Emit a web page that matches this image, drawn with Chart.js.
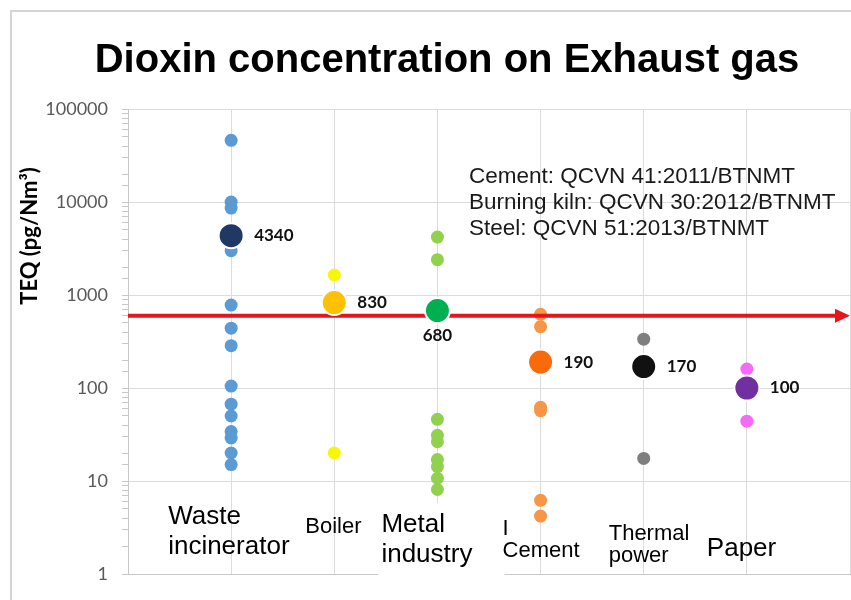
<!DOCTYPE html>
<html>
<head>
<meta charset="utf-8">
<script src="https://cdn.jsdelivr.net/npm/chart.js@4.4.0/dist/chart.umd.min.js"></script>
<style>
  html, body { margin: 0; padding: 0; background: #fff; }
  #wrap { width: 851px; height: 600px; }
</style>
</head>
<body>
<div id="wrap"><canvas id="chart" width="851" height="600"></canvas></div>
<script>
// categories and readings (pg TEQ/Nm3)
const categories = ['Waste incinerator', 'Boiler', 'Metal industry', 'Cement', 'Thermal power', 'Paper'];
const categoryLines = [['Waste', 'incinerator'], ['Boiler'], ['Metal', 'industry'], ['I', 'Cement'], ['Thermal', 'power'], ['Paper']];

const wasteValues = [46000, 10000, 8600, 3000, 780, 440, 285, 105, 67, 50, 34, 29, 20, 15];
const boilerValues = [1640, 20];
const metalValues = [4200, 2400, 46, 31, 26.5, 17, 14.3, 10.7, 8.1];
const cementValues = [620, 456, 62, 57, 6.2, 4.2];
const thermalValues = [335, 17.5];
const paperValues = [160, 44];
const meanValues = [4340, 830, 680, 190, 170, 100];

const limitValue = 600;
const yTickLabels = [1, 10, 100, 1000, 10000, 100000];
const standardsText = ['Cement: QCVN 41:2011/BTNMT', 'Burning kiln: QCVN 30:2012/BTNMT', 'Steel: QCVN 51:2013/BTNMT'];

const dotColors = ['#5b9bd5', '#f7f700', '#92d050', '#f79646', '#7f7f7f', '#f76af7'];
const meanColors = ['#1f3864', '#ffc000', '#00b050', '#fa6a0a', '#111111', '#7030a0'];

// label layout: offset from category centre, first baseline, font size, line step
const labelLayout = [
  { dx: -63, y: 524, size: 26, step: 30 },
  { dx: -29, y: 533, size: 22, step: 0 },
  { dx: -56, y: 532, size: 26, step: 30 },
  { dx: -38, y: 535, size: 22, step: 22 },
  { dx: -35, y: 540, size: 22, step: 22 },
  { dx: -40, y: 556, size: 26, step: 0 },
];

const groups = [wasteValues, boilerValues, metalValues, cementValues, thermalValues, paperValues];

const datasets = [];
groups.forEach((vals, i) => {
  datasets.push({
    label: categories[i],
    data: vals.map(v => ({ x: i + 1, y: v })),
    backgroundColor: dotColors[i],
    borderWidth: 0,
    pointRadius: 6.5,
    order: 2,
    isMean: false,
  });
});
meanValues.forEach((v, i) => {
  datasets.push({
    label: categories[i] + ' mean',
    data: [{ x: i + 1, y: v }],
    backgroundColor: meanColors[i],
    borderColor: '#ffffff',
    borderWidth: 2,
    pointRadius: 12.5,
    order: 1,
    isMean: true,
  });
});

const frame = {
  id: 'frame',
  beforeDraw(chart) {
    const ctx = chart.ctx;
    ctx.save();
    ctx.fillStyle = '#fff';
    ctx.fillRect(0, 0, chart.width, chart.height);
    ctx.strokeStyle = '#d4d4d4';
    ctx.lineWidth = 2;
    ctx.beginPath();
    ctx.moveTo(11, chart.height);
    ctx.lineTo(11, 11);
    ctx.lineTo(chart.width, 11);
    ctx.stroke();
    ctx.restore();
  }
};

let arrowDone = false;
function drawArrow(chart) {
  const ctx = chart.ctx;
  const area = chart.chartArea;
  const y = chart.scales.y.getPixelForValue(limitValue);
  ctx.save();
  ctx.strokeStyle = '#e8141b';
  ctx.fillStyle = '#e8141b';
  ctx.lineWidth = 4;
  ctx.beginPath();
  ctx.moveTo(area.left, y);
  ctx.lineTo(area.right - 12, y);
  ctx.stroke();
  ctx.beginPath();
  ctx.moveTo(area.right, y);
  ctx.lineTo(area.right - 15, y - 7);
  ctx.lineTo(area.right - 15, y + 7);
  ctx.closePath();
  ctx.fill();
  ctx.restore();
}

const limitArrow = {
  id: 'limitArrow',
  beforeDatasetsDraw() { arrowDone = false; },
  beforeDatasetDraw(chart, args) {
    if (!arrowDone && chart.data.datasets[args.index].isMean) {
      drawArrow(chart);
      arrowDone = true;
    }
  },
  afterDatasetsDraw(chart) {
    if (!arrowDone) drawArrow(chart);
    const ctx = chart.ctx;
    ctx.save();
    ctx.fillStyle = '#111';
    ctx.font = 'bold 17px Lato';
    ctx.textBaseline = 'middle';
    meanValues.forEach((v, i) => {
      const x = chart.scales.x.getPixelForValue(i + 1);
      const y = chart.scales.y.getPixelForValue(v);
      if (i === 2) {
        ctx.textAlign = 'center';
        ctx.fillText(String(v), x, y + 25);
      } else {
        ctx.textAlign = 'left';
        ctx.fillText(String(v), x + 23, y);
      }
    });
    ctx.restore();
  }
};

const texts = {
  id: 'texts',
  afterDraw(chart) {
    const ctx = chart.ctx;
    const xs = chart.scales.x;
    ctx.save();
    // title
    ctx.fillStyle = '#000';
    ctx.font = 'bold 40px "Liberation Sans", Arial';
    ctx.textAlign = 'center';
    ctx.textBaseline = 'alphabetic';
    ctx.fillText('Dioxin concentration on Exhaust gas', 447, 72);

    // y axis title
    ctx.save();
    ctx.translate(30, 236);
    ctx.rotate(-Math.PI / 2);
    ctx.font = 'bold 22px Lato';
    ctx.textBaseline = 'middle';
    ctx.fillText('TEQ (pg/Nm\u00b3)', 0, 0);
    ctx.restore();

    // standards note
    ctx.font = '22.5px "Liberation Sans", Arial';
    ctx.textAlign = 'left';
    ctx.fillStyle = '#1a1a1a';
    standardsText.forEach((t, i) => ctx.fillText(t, 469, 183 + i * 26));

    // category labels
    ctx.fillStyle = '#fff';
    const mx = xs.getPixelForValue(3);
    ctx.fillRect(mx - 59, 503, 126, 78);
    ctx.fillStyle = '#000';
    categoryLines.forEach((lines, i) => {
      const lay = labelLayout[i];
      const x = xs.getPixelForValue(i + 1) + lay.dx;
      ctx.font = lay.size + 'px "Liberation Sans", Arial';
      lines.forEach((t, k) => ctx.fillText(t, x, lay.y + k * lay.step));
    });
    ctx.restore();
  }
};

new Chart(document.getElementById('chart'), {
  type: 'scatter',
  data: { datasets },
  options: {
    responsive: false,
    animation: false,
    layout: { autoPadding: false, padding: { top: 109, bottom: 26, right: 1, left: 0 } },
    plugins: { legend: { display: false }, tooltip: { enabled: false }, title: { display: false } },
    scales: {
      x: {
        type: 'linear',
        min: 0,
        max: 7,
        ticks: { display: false, stepSize: 1 },
        grid: { color: '#dcdcdc', drawTicks: false },
        border: { color: '#c8c8c8' }
      },
      y: {
        type: 'logarithmic',
        min: 1,
        max: 100000,
        afterFit(s) { s.width = 128; },
        ticks: {
          autoSkip: false,
          padding: 14,
          color: '#595959',
          font: { family: 'Lato', size: 18 },
          callback: v => yTickLabels.includes(v) ? String(v) : ''
        },
        grid: {
          tickLength: 6,
          tickColor: '#c8c8c8',
          color: c => yTickLabels.includes(c.tick.value) ? '#dcdcdc' : 'rgba(0,0,0,0)'
        },
        border: { color: '#c8c8c8' }
      }
    }
  },
  plugins: [frame, limitArrow, texts]
});
</script>
</body>
</html>
